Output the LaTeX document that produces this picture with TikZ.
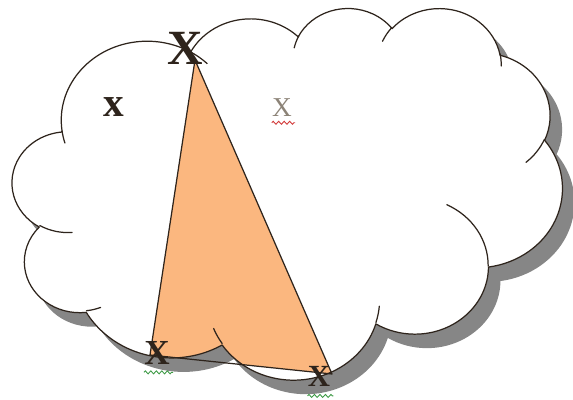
\documentclass[tikz,border=0pt]{standalone}
\usepackage{fontspec}
\setmainfont{Liberation Serif}
\usetikzlibrary{decorations.pathmorphing}
\definecolor{cldink}{HTML}{2E241C}
\definecolor{cldshade}{HTML}{868686}
\definecolor{cldfill}{HTML}{FBB77F}
\definecolor{cldfaint}{HTML}{8C8377}
\definecolor{cldred}{HTML}{D23A3A}
\definecolor{cldgreen}{HTML}{3E9A46}
% one bulge of the cloud: x radius, y radius, start angle, sweep (degrees as seen)
\newcommand{\lobe}[4]{arc[x radius=#1, y radius=#2,
  start angle={atan2(#1*sin(#3),#2*cos(#3))},
  delta angle={mod(atan2(#1*sin(#3+#4),#2*cos(#3+#4))-atan2(#1*sin(#3),#2*cos(#3))+720,360)}]}
\newcommand{\cloudpath}{(3.9,14.37)
  \lobe{6.753}{9.19}{-190.48748}{123.78053}
  \lobe{5.333}{7.267}{-144.10238}{89.94523}
  \lobe{4.365}{5.945}{-145.80792}{99.72302}
  \lobe{4.857}{6.595}{-130.98607}{117.24173}
  \lobe{5.333}{7.273}{-78.70888}{109.02692}
  \lobe{6.775}{9.22}{-46.26725}{130.269}
  \lobe{5.785}{7.867}{0.62502}{114.03333}
  \lobe{6.752}{9.215}{22.4516}{115.17255}
  \lobe{7.72}{10.543}{66.24263}{75.71102}
  \lobe{4.36}{5.918}{-274.94208}{146.73557}
  \lobe{4.345}{5.945}{-246.8285}{152.51885} -- cycle}
\newcommand{\cloudcreases}{%
  (4.693,26.177) \lobe{4.345}{5.945}{86.742}{26.4295}
  (6.928,34.899) \lobe{4.36}{5.918}{73.61047}{11.44747}
  (16.478,39.09) \lobe{6.752}{9.215}{137.62415}{14.0811}
  (28.827,34.751) \lobe{6.752}{9.215}{6.45327}{15.99835}
  (34.129,22.954) \lobe{5.785}{7.867}{-70.29235}{70.91737}
  (41.798,15.354) \lobe{5.333}{7.273}{30.31803}{27.7515}
  (38.324,5.426) \lobe{5.333}{7.273}{-13.74433}{14.8589}
  (29.078,3.952) \lobe{4.857}{6.595}{-149.18145}{18.19537}
  (22.141,4.72) \lobe{4.365}{5.945}{-163.49427}{17.68635}
  (14.0,5.192) \lobe{6.753}{9.19}{-66.70695}{12.31935}
  (4.127,15.789) \lobe{6.753}{9.19}{157.65435}{11.85817}}

\begin{document}
\begin{tikzpicture}[
  x=0.2mm, y=0.2mm,
  cloudframe/.style={shift={#1}, xscale=12.728, yscale=-8.6},
  rim/.style={draw=cldink, line width=0.7pt, line join=round, line cap=round},
  letter/.style={inner sep=0pt, text=cldink},
  squig/.style={decorate, decoration={zigzag, segment length=1.1mm, amplitude=0.3mm}, line width=0.5pt},
]
  \useasboundingbox (0,0) rectangle (573,-400);
  \coordinate (apex) at (195,-60);
  \coordinate (bl) at (150,-355);
  \coordinate (br) at (332,-374);
  % shadow, body, filled part of the triangle
  \begin{scope}[cloudframe={(24.4,-21.3)}]
    \fill[cldshade] \cloudpath;
  \end{scope}
  \begin{scope}[cloudframe={(12.4,-7.3)}]
    \fill[white] \cloudpath;
    \clip \cloudpath;
    \fill[cldfill] (apex) -- (bl) -- (br) -- cycle;
  \end{scope}
  \begin{scope}[cloudframe={(12.4,-7.3)}]
    \draw[rim] \cloudpath;
    \draw[rim] \cloudcreases;
  \end{scope}
  \draw[rim] (apex) -- (bl) -- (br) -- cycle;
  \node[letter, font=\fontsize{28}{30}\selectfont\bfseries] (topx) at (185,-48) {X};
  \node[letter, font=\fontsize{23.5}{26}\selectfont\bfseries] (midx) at (114,-107.5) {x};
  \node[letter, text=cldfaint, font=\fontsize{15.5}{17}\selectfont] (greyx) at (282,-107.5) {X};
  \node[letter, font=\fontsize{20}{22}\selectfont\bfseries] (leftx) at (157,-353) {X};
  \node[letter, font=\fontsize{17.5}{19}\selectfont\bfseries] (rightx) at (319,-376.5) {X};
  \draw[squig, cldred] ([yshift=-1.2mm]greyx.south west) -- ([yshift=-1.2mm, xshift=0.6mm]greyx.south east);
  \draw[squig, cldgreen] ([yshift=-1.5mm]leftx.south west) -- ([yshift=-1.5mm, xshift=0.6mm]leftx.south east);
  \draw[squig, cldgreen] ([yshift=-1.8mm]rightx.south west) -- ([yshift=-1.8mm, xshift=0.6mm]rightx.south east);
\end{tikzpicture}
\end{document}
